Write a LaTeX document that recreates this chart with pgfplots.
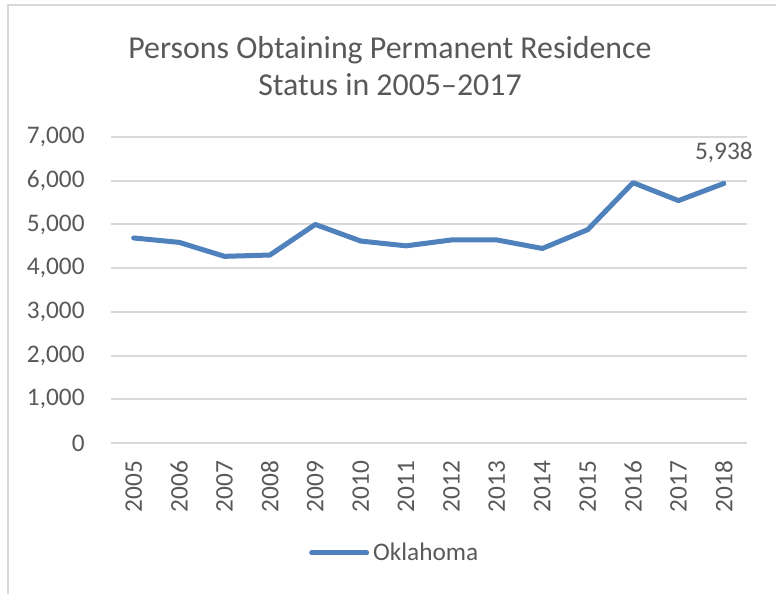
\documentclass[border=0pt]{standalone}
\usepackage{pgfplots}
\pgfplotsset{compat=1.18}
\usepackage{fontspec}
\setmainfont{Carlito}
\definecolor{lineblue}{HTML}{4F81BD}
\definecolor{gridgray}{HTML}{D9D9D9}
\definecolor{txtgray}{HTML}{595959}
\begin{document}
\begin{tikzpicture}
\useasboundingbox (-55.5bp,-75.5bp) rectangle (332.5bp,221.5bp);
\fill[white] (-55.5bp,-75.5bp) rectangle (332.5bp,221.5bp);
\draw[gridgray, line width=1bp] (-51.5bp,-76bp) -- (-51.5bp,219bp) -- (333bp,219bp);
\begin{axis}[
  scale only axis,
  width=317.8bp, height=153bp,
  xmin=2004.5, xmax=2018.5,
  ymin=0, ymax=7000,
  xtick={2005,...,2018},
  ytick={0,1000,...,7000},
  axis line style={draw=none},
  major tick length=0pt,
  ymajorgrids,
  grid style={gridgray, line width=1bp},
  /pgf/number format/assume math mode=true,
  tick label style={font=\fontsize{12.7}{15}\selectfont, text=txtgray},
  yticklabel style={inner sep=0pt, anchor=east, xshift=-13bp},
  xticklabel style={yshift=-8.8bp, rotate=90, inner sep=0pt, anchor=east, /pgf/number format/1000 sep={}},
  legend style={at={(0.448,-0.359)}, anchor=center, draw=none, fill=none,
    font=\fontsize{12.7}{15}\selectfont, text=txtgray, inner sep=0pt},
  legend image code/.code={\draw[#1, line cap=round] (0bp,0bp) -- (27.5bp,0bp);},
  clip=false,
]
\addplot[lineblue, line width=2.5bp, line join=round, line cap=round] coordinates {
  (2005,4690) (2006,4590) (2007,4270) (2008,4300) (2009,5000) (2010,4620)
  (2011,4510) (2012,4645) (2013,4645) (2014,4450) (2015,4880) (2016,5955)
  (2017,5545) (2018,5938)
};
\addlegendentry{Oklahoma}
\addplot[draw=none, forget plot, nodes near coords, point meta=explicit symbolic,
  nodes near coords style={anchor=south, yshift=10bp, inner sep=0pt,
    font=\fontsize{12.7}{15}\selectfont, text=txtgray}]
  coordinates {(2018,5938) [5,938]};
\end{axis}
\node[text=txtgray, font=\fontsize{16}{19}\selectfont, align=center] at (139.5bp,188.5bp)
  {Persons Obtaining Permanent Residence\\Status in 2005–2017};
\end{tikzpicture}
\end{document}
